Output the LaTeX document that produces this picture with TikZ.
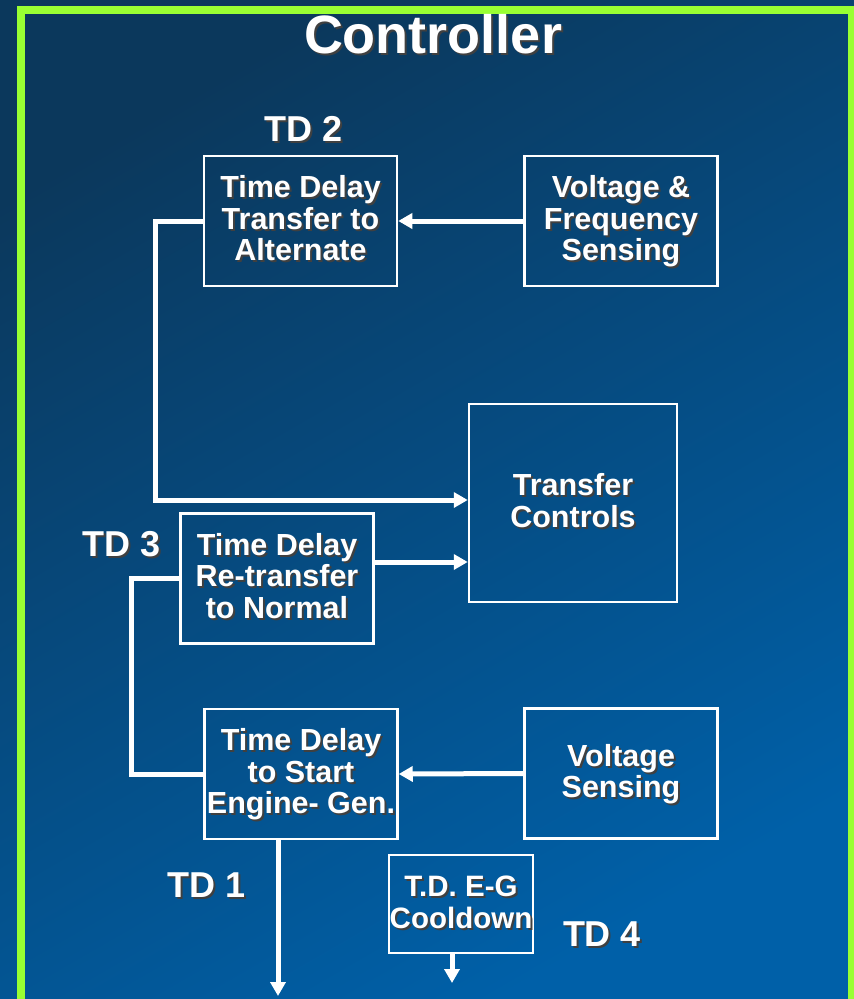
\documentclass[tikz,border=0pt]{standalone}
\usepackage{fontspec}
\setmainfont{Liberation Sans}
\usetikzlibrary{arrows.meta}
\definecolor{bgdark}{RGB}{11,56,92}
\definecolor{bglight}{RGB}{0,96,168}
\definecolor{limeline}{RGB}{153,255,51}
\newcommand\shtab[1]{\begin{tabular}{@{}c@{}}#1\end{tabular}}
\newcommand\shtxt[1]{\raisebox{-3pt}[\height][\depth]{\rlap{\kern2pt\raisebox{-2pt}{\color{black!75}\shtab{#1}}}\shtab{#1}}}

\begin{document}
\begin{tikzpicture}[x=1pt,y=-1pt,
    box/.style={draw=white, line width=2.5pt, minimum width=193pt, minimum height=130pt,
      inner sep=0pt, text=white, font=\bfseries\fontsize{30.5}{31.5}\selectfont},
    tdlabel/.style={text=white, inner sep=0pt, font=\bfseries\fontsize{36}{38}\selectfont},
    wire/.style={draw=white, line width=5pt},
    arr/.style={wire, -{Triangle[length=14pt,width=15pt]}}]
    \useasboundingbox (0,0) rectangle (854,999);
    \shade[top color=bgdark, bottom color=bglight, shading angle=30] (0,0) rectangle (854,999);
    \draw[limeline, line width=8pt] (21,10) rectangle (852,1003);
    % title
    \node[text=white, inner sep=0pt, font=\bfseries\fontsize{54}{56}\selectfont] (ttl) at (433,40) {\shtxt{Controller}};
    % blocks
    \node[box] (td2) at (300.5,221) {\shtxt{Time Delay\\Transfer to\\Alternate}};
    \node[box] (vfs) at (621,221) {\shtxt{Voltage \&\\Frequency\\Sensing}};
    \node[box, minimum width=208pt, minimum height=198pt] (xfer) at (573,503) {\shtxt{Transfer\\Controls}};
    \node[box] (td3) at (277,578.5) {\shtxt{Time Delay\\Re-transfer\\to Normal}};
    \node[box] (tdstart) at (301,774) {\shtxt{Time Delay\\to Start\\Engine- Gen.}};
    \node[box] (vs) at (621,773.5) {\shtxt{Voltage\\Sensing}};
    \node[box, minimum width=144pt, minimum height=98pt, font=\bfseries\fontsize{29.5}{31.5}\selectfont] (cool) at (461,904) {\shtxt{T.D. E-G\\Cooldown}};
    % labels
    \node[tdlabel] (lbl2) at (304,132) {\shtxt{TD 2}};
    \node[tdlabel] (lbl3) at (122,547) {\shtxt{TD 3}};
    \node[tdlabel] (lbl1) at (207,888) {\shtxt{TD 1}};
    \node[tdlabel] (lbl4) at (602,937) {\shtxt{TD 4}};
    % connectors
    \coordinate (out1) at (278,996);
    \coordinate (out4) at (452,983);
    \draw[arr] (vfs.west) -- (td2.east);
    \draw[arr] (td2.west) -- ++(-47,0) |- (xfer.west |- 0,500);
    \draw[arr] (td3.east |- 0,562) -- (xfer.west |- 0,562);
    \draw[wire] (td3.west) -- ++(-48,0) |- (tdstart.west);
    \draw[arr] (vs.west) -- (tdstart.east);
    \draw[arr] (tdstart.south -| out1) -- (out1);
    \draw[arr] (cool.south -| out4) -- (out4);
\end{tikzpicture}
\end{document}
